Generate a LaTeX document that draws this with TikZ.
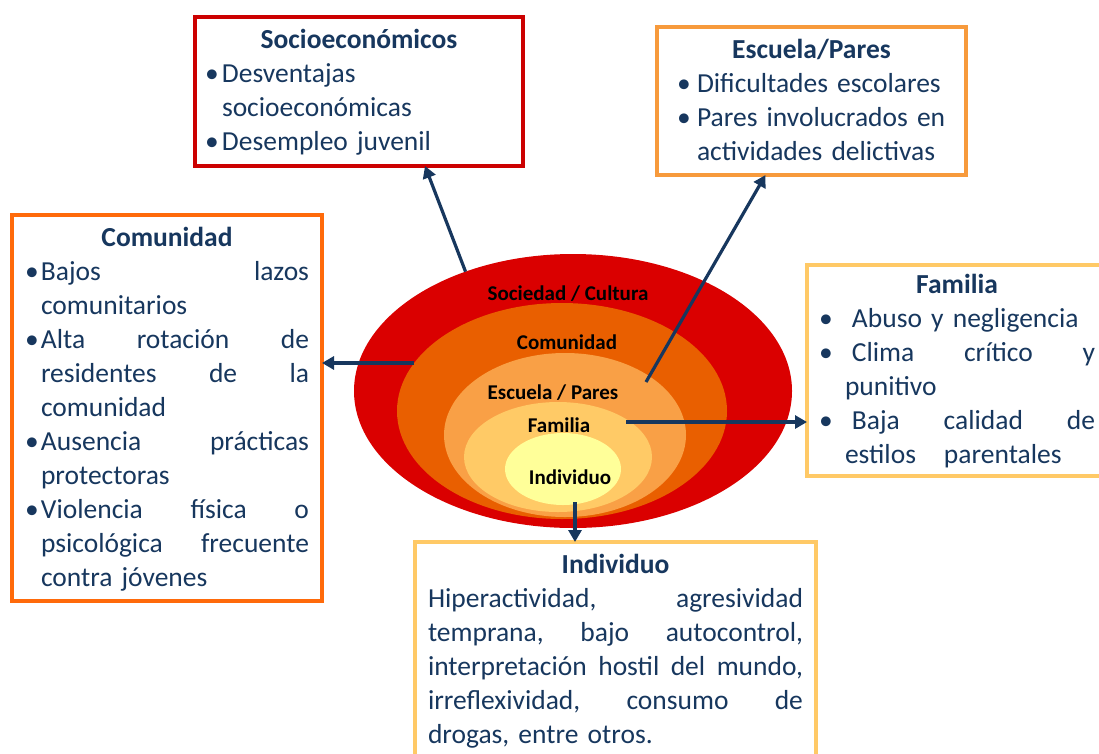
\documentclass[tikz,border=0pt]{standalone}
\usepackage{fontspec}
\setmainfont{Carlito}
\usepackage{xcolor}
\usepackage{tikz}
\usetikzlibrary{positioning,arrows.meta,shapes.geometric,calc}
\definecolor{NavyText}{HTML}{17375E}
\definecolor{RingSociedad}{HTML}{DA0000}
\definecolor{RingComunidad}{HTML}{E95F00}
\definecolor{RingEscuela}{HTML}{F9A046}
\definecolor{RingFamilia}{HTML}{FFCA66}
\definecolor{RingIndividuo}{HTML}{FFFF99}
\definecolor{BorderRed}{HTML}{CC0000}
\definecolor{BorderOrange}{HTML}{F79A3C}
\definecolor{BorderDeep}{HTML}{FF6A0A}
\definecolor{BorderLight}{HTML}{FFC966}
\newcommand{\strutb}{\rule[-9pt]{0pt}{34pt}}
\newcommand{\punto}[1]{\makebox[#1][l]{•}}
\newcommand{\jus}[1]{\makebox[\linewidth][l]{#1}}
\newcommand{\titulo}[1]{\makebox[\linewidth][c]{\bfseries\strutb #1}}

\begin{document}
\begin{tikzpicture}[x=1pt,y=-1pt,
    every node/.style={font=\fontsize{27.5}{34}\selectfont},
    box/.style={draw,line width=4pt,fill=white,align=left,outer sep=0pt,
                inner ysep=6pt,text=NavyText,anchor=north west},
    ring/.style={ellipse,inner sep=0pt,outer sep=0pt},
    lbl/.style={font=\fontsize{21}{25}\selectfont\bfseries,text=black,anchor=base},
    ar/.style={-{Triangle[length=12pt,width=13pt]},line width=3.2pt,NavyText}]
  \fill[white] (0,0) rectangle (1099,753);
  \useasboundingbox (0,0) rectangle (1099,753);

  \node[box,draw=BorderRed,text width=308pt,inner xsep=10pt,inner ysep=6.5pt]
    (socB) at (195,17) {\titulo{Socioeconómicos}\\
      \punto{17pt}Desventajas\\
      \hspace*{17pt}socioeconómicas\\
      \punto{17pt}Desempleo juvenil\strutb};
  \node[box,draw=BorderOrange,text width=269pt,inner xsep=20pt]
    (escB) at (657,27) {\titulo{Escuela/Pares}\\
      \punto{20pt}Dificultades escolares\\
      \punto{20pt}Pares involucrados en\\
      \hspace*{20pt}actividades delictivas\strutb};
  \node[box,draw=BorderDeep,text width=284pt,inner xsep=13pt]
    (comB) at (12,215) {\titulo{Comunidad}\\
      \jus{\punto{16pt}Bajos\hfill lazos}\\
      \hspace*{16pt}comunitarios\\
      \jus{\punto{16pt}Alta\hfill rotación\hfill de}\\
      \jus{\hspace*{16pt}residentes\hfill de\hfill la}\\
      \hspace*{16pt}comunidad\\
      \jus{\punto{16pt}Ausencia\hfill prácticas}\\
      \hspace*{16pt}protectoras\\
      \jus{\punto{16pt}Violencia\hfill física\hfill o}\\
      \jus{\hspace*{16pt}psicológica\hfill frecuente}\\
      \hspace*{16pt}contra jóvenes\strutb};
  \node[box,draw=BorderLight,text width=276pt,inner xsep=12pt,inner ysep=3.5pt]
    (famB) at (807,265) {\titulo{Familia}\\
      \punto{33pt}Abuso y negligencia\\
      \jus{\punto{33pt}Clima\hfill crítico\hfill y}\\
      \hspace*{26pt}punitivo\\
      \jus{\punto{33pt}Baja\hfill calidad\hfill de}\\
      \hspace*{26pt}estilos\hspace{28pt}parentales\strutb};
  \node[box,draw=BorderLight,text width=375pt,inner xsep=13pt]
    (indB) at (415,542) {\titulo{Individuo}\\
      \jus{Hiperactividad,\hfill agresividad}\\
      \jus{temprana,\hfill bajo\hfill autocontrol,}\\
      \jus{interpretación\hfill hostil\hfill del\hfill mundo,}\\
      \jus{irreflexividad,\hfill consumo\hfill de}\\
      drogas, entre otros.\strutb};

  \node[ring,fill=RingSociedad,minimum width=438pt,minimum height=274pt] (sociedad) at (573,391) {};
  \node[ring,fill=RingComunidad,minimum width=330pt,minimum height=216pt] (comunidad) at (562,411) {};
  \node[ring,fill=RingEscuela,minimum width=242pt,minimum height=164pt] (escuela) at (565,435) {};
  \node[ring,fill=RingFamilia,minimum width=188pt,minimum height=110pt] (familia) at (558,457) {};
  \node[ring,fill=RingIndividuo,minimum width=116pt,minimum height=72pt] (individuo) at (563,469) {};

  \node[lbl] (lSoc) at (568,300) {Sociedad / Cultura};
  \node[lbl] (lCom) at (567,349) {Comunidad};
  \node[lbl] (lEsc) at (553,399) {Escuela / Pares};
  \node[lbl] (lFam) at (559,432) {Familia};
  \node[lbl] (lInd) at (570,484) {Individuo};

  \coordinate (pEsc) at (646,382);
  \coordinate (pFam) at (626,422);
  \coordinate (pInd) at (575,502);

  \draw[ar] (sociedad.132) -- ([xshift=66pt]socB.south);
  \draw[ar] (pEsc) -- ([xshift=-46pt]escB.south);
  \draw[ar] (comunidad.162) -- (comunidad.162 -| comB.east);
  \draw[ar] (pFam) -- (pFam -| famB.west);
  \draw[ar] (pInd) -- (pInd |- indB.north);
\end{tikzpicture}
\end{document}
